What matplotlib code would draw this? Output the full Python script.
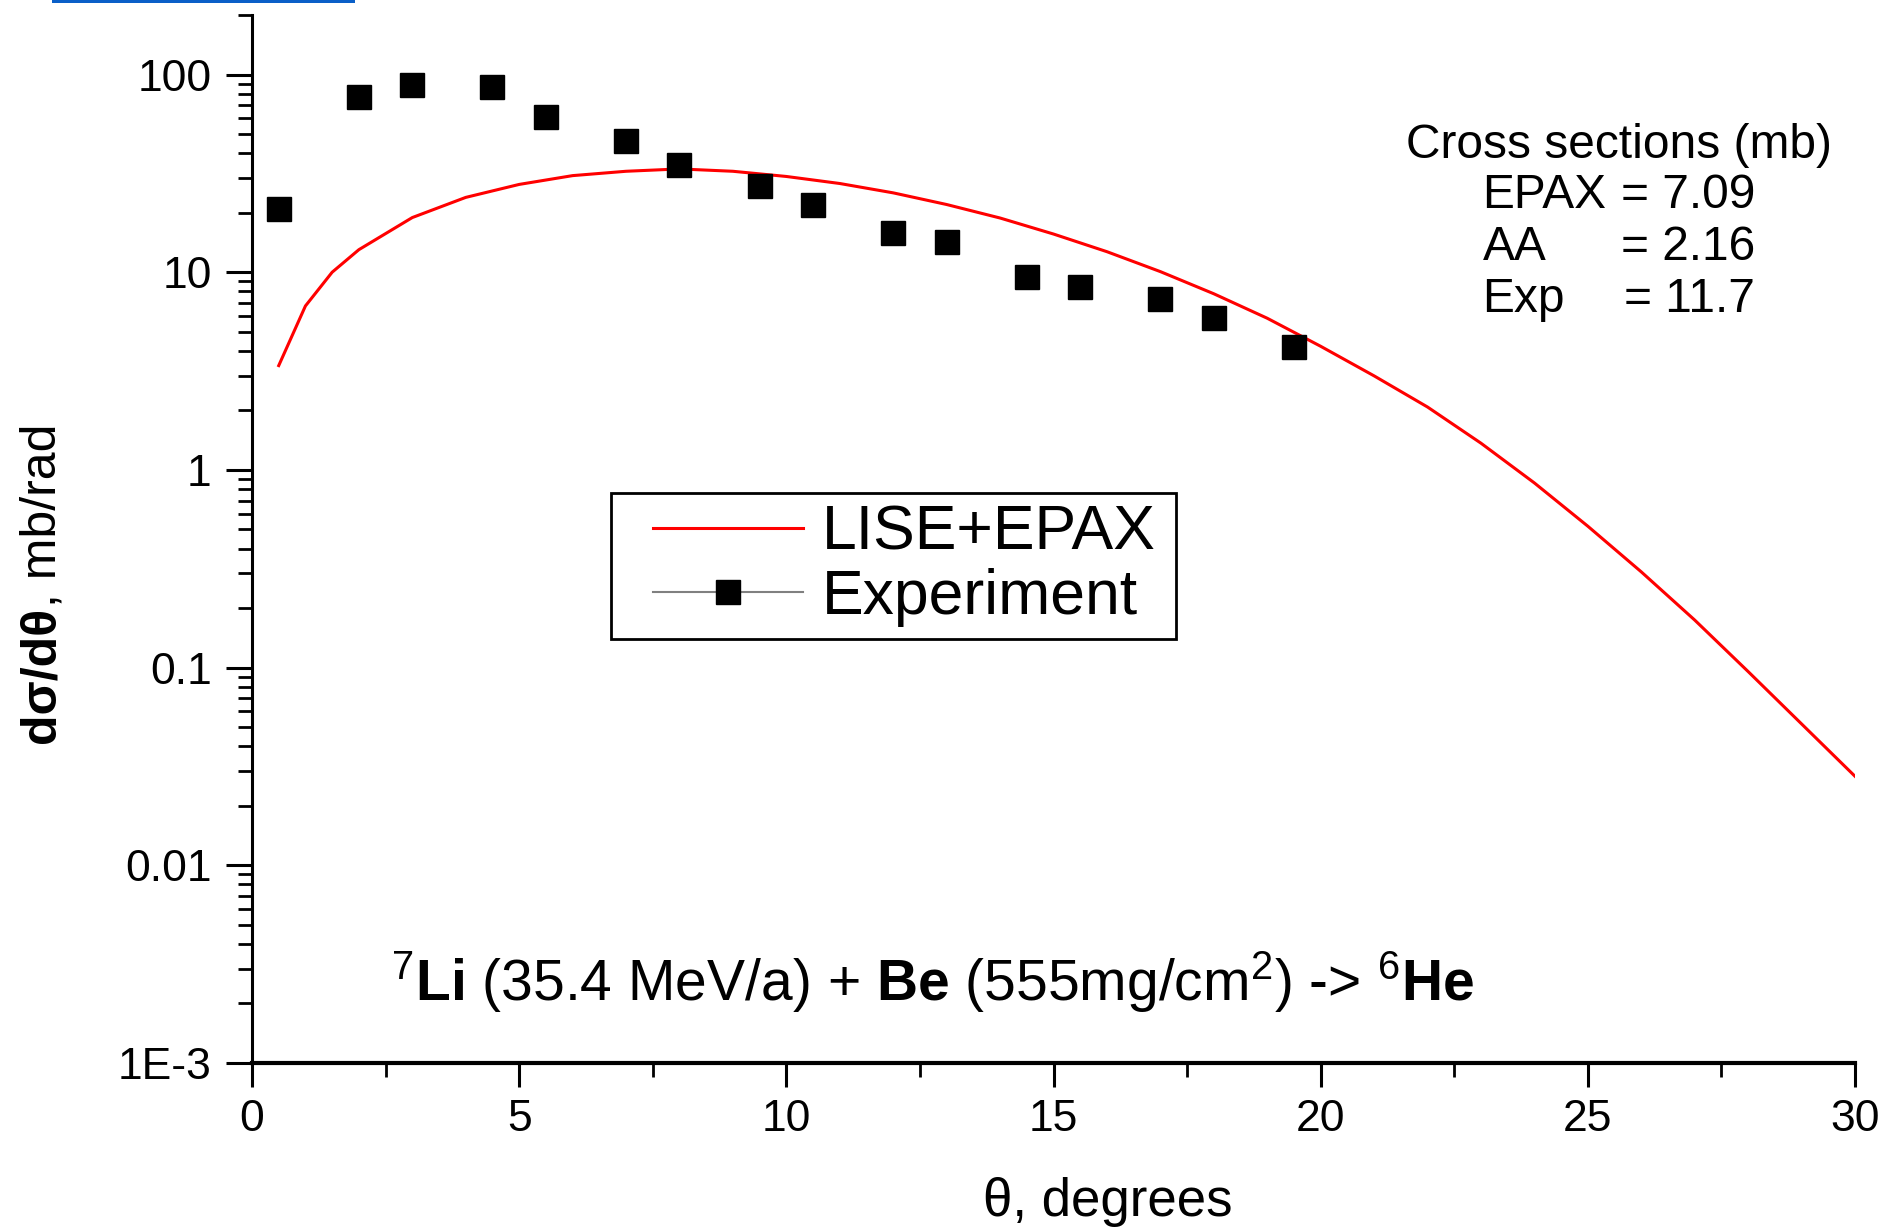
import numpy as np
import matplotlib
matplotlib.use('Agg')
import matplotlib.pyplot as plt
from matplotlib.lines import Line2D
from matplotlib.patches import Rectangle
from matplotlib.ticker import MultipleLocator, LogLocator, NullFormatter

plt.rcParams['font.family'] = ['Liberation Sans', 'DejaVu Sans']
plt.rcParams['mathtext.fontset'] = 'custom'
plt.rcParams['mathtext.rm'] = 'Liberation Sans'
plt.rcParams['mathtext.bf'] = 'Liberation Sans:bold'
plt.rcParams['mathtext.it'] = 'Liberation Sans:italic'

# LISE+EPAX calculation, angular distribution
theta_calc = [0.5, 1.0, 1.5, 2.0, 3.0, 4.0, 5.0, 6.0, 7.0, 8.0, 9.0, 10.0,
              11.0, 12.0, 13.0, 14.0, 15.0, 16.0, 17.0, 18.0, 19.0, 20.0,
              21.0, 22.0, 23.0, 24.0, 25.0, 26.0, 27.0, 28.0, 29.0, 30.0]
dsig_calc = [3.37, 6.75, 10.0, 13.0, 18.9, 23.9, 27.8, 30.8, 32.4, 33.3, 32.4, 30.5,
             28.1, 25.2, 22.0, 18.8, 15.6, 12.7, 10.07, 7.78, 5.85, 4.22,
             2.99, 2.08, 1.365, 0.859, 0.519, 0.305, 0.174, 0.0955, 0.0519, 0.0282]

# measured points
theta_exp = [0.5, 2.0, 3.0, 4.5, 5.5, 7.0, 8.0, 9.5, 10.5, 12.0, 13.0, 14.5, 15.5, 17.0, 18.0, 19.5]
dsig_exp = [21.0, 77.0, 88.0, 86.0, 61.0, 46.0, 35.0, 27.4, 22.0, 15.8, 14.3, 9.5, 8.4, 7.35, 5.84, 4.2]

ytick_vals = [1e-3, 1e-2, 1e-1, 1, 10, 100]
ytick_text = ['1E-3', '0.01', '0.1', '1', '10', '100']

xs_names = ['EPAX', 'AA', 'Exp']
xs_values = ['7.09', '2.16', '11.7']

fig = plt.figure(figsize=(18.85, 12.30), dpi=100)
ax = fig.add_axes([252/1885, 1 - 1063/1230, (1855 - 252)/1885, (1063 - 15)/1230])

ax.plot(theta_calc, dsig_calc, color='#ff0000', lw=2.2, zorder=2)
ax.plot(theta_exp, dsig_exp, ls='none', marker='s', ms=17, color='black', zorder=3)

ax.set_yscale('log')
ax.set_xlim(0, 30)
ax.set_ylim(1e-3, 200)

for s in ['top', 'right']:
    ax.spines[s].set_visible(False)
ax.spines['left'].set_linewidth(2.2)
ax.spines['bottom'].set_linewidth(3.0)

ax.set_yticks(ytick_vals)
ax.set_yticklabels(ytick_text)
ax.yaxis.set_minor_locator(LogLocator(base=10, subs=np.arange(2, 10)))
ax.yaxis.set_minor_formatter(NullFormatter())
ax.set_xticks(range(0, 31, 5))
ax.xaxis.set_minor_locator(MultipleLocator(2.5))

ax.tick_params(axis='y', which='major', direction='out', length=19, width=2.2, labelsize=32, pad=10)
ax.tick_params(axis='y', which='minor', direction='out', length=10, width=2.0)
ax.tick_params(axis='x', which='major', direction='out', length=17, width=2.2, labelsize=32, pad=9)
ax.tick_params(axis='x', which='minor', direction='out', length=10, width=2.0)

# axis titles
fig.text(1108/1885, 1 - 1202/1230, 'θ, degrees', fontsize=38, ha='center', va='center')
t1 = fig.text(42/1885, 1 - 743/1230, 'dσ/dθ', rotation=90, fontsize=36, fontweight='bold',
              ha='center', va='bottom')
ax.annotate(', mb/rad', xy=(0.5, 1.0), xycoords=t1, rotation=90, fontsize=36,
            ha='center', va='bottom')

# cross section summary
ax.text(0.8527, 0.8755, 'Cross sections (mb)', transform=ax.transAxes, fontsize=34.5,
        ha='center', va='center')
for i in range(len(xs_names)):
    yy = 0.8273 - i*0.0493
    ax.text(0.7676, yy, xs_names[i], transform=ax.transAxes, fontsize=34.5, ha='left', va='center')
    ax.text(0.9377, yy, '= ' + xs_values[i], transform=ax.transAxes, fontsize=34.5, ha='right', va='center')

# reaction
ax.text(0.0867, 0.059,
        r'$^{7}\mathbf{Li}$ (35.4 MeV/a) + $\mathbf{Be}$ (555mg/cm$^{2}$) -> $^{6}\mathbf{He}$',
        transform=ax.transAxes, fontsize=41, ha='left', va='baseline')

# legend: box drawn separately so the padding can be set freely
ax.add_patch(Rectangle((0.2238, 0.405), 0.5763 - 0.2238, 0.544 - 0.405, transform=ax.transAxes,
                       facecolor='white', edgecolor='black', lw=2.0, zorder=4))
handles = [Line2D([], [], color='#ff0000', lw=2.2),
           Line2D([], [], color='#808080', lw=1.5, marker='s', ms=17,
                  markerfacecolor='black', markeredgecolor='black')]
leg = ax.legend(handles, ['LISE+EPAX', 'Experiment'], loc='center left',
                bbox_to_anchor=(0.25, 0.475), borderaxespad=0, borderpad=0, fontsize=45,
                frameon=False, handlelength=2.4, handletextpad=0.3, labelspacing=0.08)
leg.set_zorder(5)

# blue strip along the top edge
fig.add_artist(Rectangle((52/1885, 1 - 3/1230), (355 - 52)/1885, 3/1230,
                         transform=fig.transFigure, color='#0a5fc8', lw=0))

fig.savefig('out.png', dpi=100)
